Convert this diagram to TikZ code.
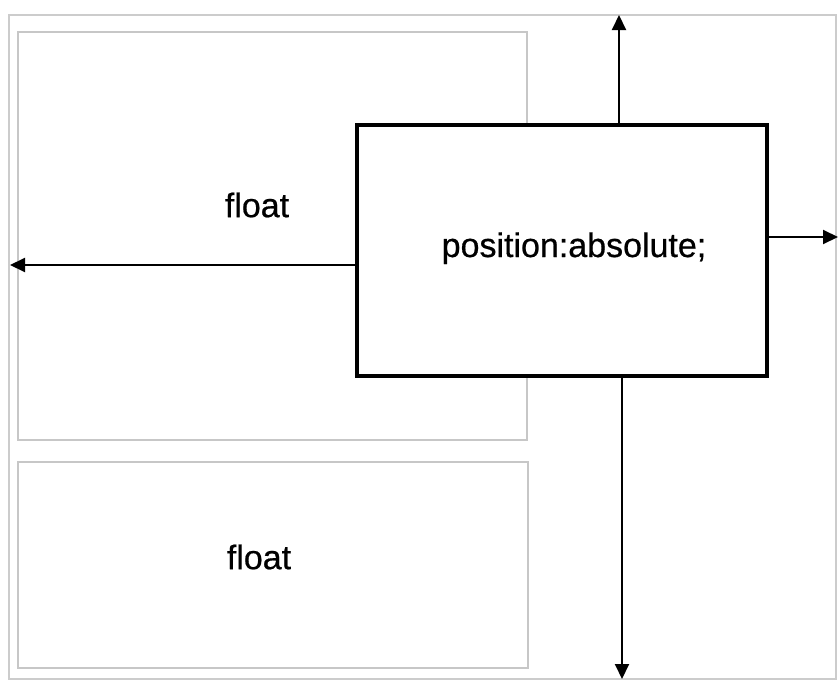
\documentclass[tikz,border=0pt]{standalone}
\usepackage{fontspec}
\setmainfont{Liberation Sans}
\newfontfamily\labelfont[FakeBold=0.6]{Liberation Sans}
\usetikzlibrary{arrows.meta}
\begin{document}
\begin{tikzpicture}[x=1pt,y=-1pt,
  container/.style={draw=black!20,line width=1.1pt},
  floatbox/.style={draw=black!22,line width=1.1pt},
  absbox/.style={draw=black,line width=4pt,fill=white},
  label/.style={font=\labelfont\fontsize{34}{40}\selectfont,inner sep=0pt},
  offset/.style={draw=black,line width=2pt,-{Triangle[length=15pt,width=14pt]}}]
  \useasboundingbox (0,0) rectangle (839,680);
  % containing block
  \draw[container] (9,15) rectangle (836,679);
  % floated boxes
  \draw[floatbox] (18,32) rectangle (527,440);
  \draw[floatbox] (18,462) rectangle (528,668);
  \node[label] (f1) at (257,205) {float};
  \node[label] (f2) at (259,557) {float};
  % absolutely positioned box
  \node[absbox,minimum width=410pt,minimum height=251pt,inner sep=0pt] (abs) at (562,250) {};
  \node[label,anchor=base] (abstext) at (574,257) {position:absolute;};
  % offsets to the container edges
  \coordinate (topend) at (619,15);
  \coordinate (rightend) at (838,237);
  \coordinate (leftend) at (10,265);
  \coordinate (bottomend) at (622,679);
  \draw[offset] (abs.north -| topend) -- (topend);
  \draw[offset] (abs.east |- rightend) -- (rightend);
  \draw[offset] (abs.west |- leftend) -- (leftend);
  \draw[offset] (abs.south -| bottomend) -- (bottomend);
\end{tikzpicture}
\end{document}
